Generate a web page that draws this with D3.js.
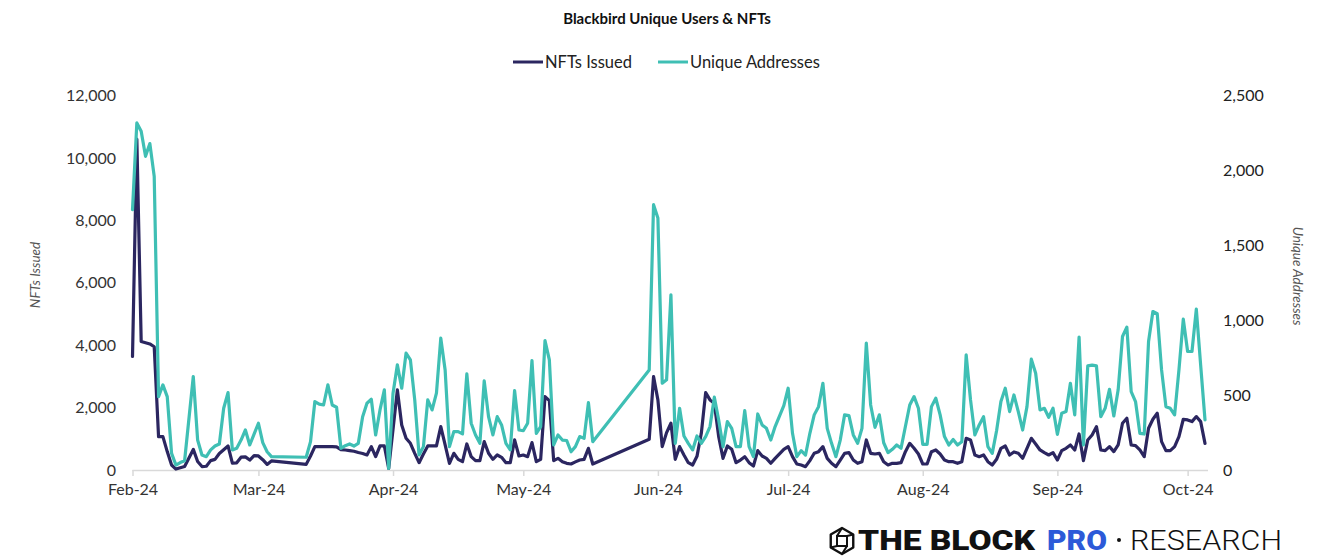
<!DOCTYPE html>
<html>
<head>
<meta charset="utf-8">
<script src="https://cdn.jsdelivr.net/npm/d3@7"></script>
<style>
  body { margin: 0; background: #ffffff; }
  svg { display: block; }
  text { font-family: Lato, "Open Sans", "DejaVu Sans", sans-serif; }
</style>
</head>
<body>
<svg id="chart" width="1329" height="557"></svg>
<script>
// Daily observations (2024, MM-DD); days without data are simply absent.
const dates = [
  "02-01","02-02","02-03","02-04","02-05","02-06","02-07","02-08","02-09","02-10",
  "02-11","02-12","02-13","02-15","02-16","02-17","02-18","02-19","02-20","02-21",
  "02-22","02-23","02-24","02-25","02-26","02-27","02-28","02-29",
  "03-01","03-02","03-03","03-04","03-12","03-13","03-14","03-15","03-16","03-17",
  "03-18","03-19","03-20","03-21","03-22","03-23","03-24","03-25","03-26","03-27",
  "03-28","03-29","03-30","03-31",
  "04-01","04-02","04-03","04-04","04-05","04-06","04-07","04-08","04-09","04-10",
  "04-11","04-12","04-13","04-14","04-15","04-16","04-17","04-18","04-19","04-20",
  "04-21","04-22","04-23","04-24","04-25","04-26","04-27","04-28","04-29","04-30",
  "05-01","05-02","05-03","05-04","05-05","05-06","05-07","05-08","05-09","05-10",
  "05-11","05-12","05-13","05-14","05-15","05-16","05-17","05-30","05-31",
  "06-01","06-02","06-03","06-04","06-05","06-06","06-07","06-08","06-09","06-10",
  "06-11","06-12","06-13","06-14","06-15","06-16","06-17","06-18","06-19","06-20",
  "06-21","06-22","06-23","06-24","06-25","06-26","06-27","06-28","06-29","06-30",
  "07-01","07-02","07-03","07-04","07-05","07-06","07-07","07-08","07-09","07-10",
  "07-11","07-12","07-13","07-14","07-15","07-16","07-17","07-18","07-19","07-20",
  "07-21","07-22","07-23","07-24","07-25","07-26","07-27","07-28","07-29","07-30","07-31",
  "08-01","08-02","08-03","08-04","08-05","08-06","08-07","08-08","08-09","08-10",
  "08-11","08-12","08-13","08-14","08-15","08-16","08-17","08-18","08-19","08-20",
  "08-21","08-22","08-23","08-24","08-25","08-26","08-27","08-28","08-29","08-30","08-31",
  "09-01","09-02","09-03","09-04","09-05","09-06","09-07","09-08","09-09","09-10",
  "09-11","09-12","09-13","09-14","09-15","09-16","09-17","09-18","09-19","09-20",
  "09-21","09-22","09-23","09-24","09-25","09-26","09-27","09-28","09-29","09-30",
  "10-01","10-02","10-03","10-04","10-05"
];

// NFTs Issued (left axis)
const nftsIssued = [
  3640,10600,4120,4080,4040,3950,1070,1070,590,160,
  30,70,110,660,270,110,120,300,340,530,
  650,770,220,230,410,420,320,460,
  450,330,180,290,180,450,750,750,750,750,
  750,740,650,640,620,600,560,530,481,749,
  428,770,770,53,
  1300,2567,1444,1016,855,535,235,513,770,770,
  770,1390,802,214,535,342,267,834,428,300,
  300,909,535,342,481,406,235,235,963,449,
  481,428,877,267,342,2353,2225,300,374,267,
  214,192,260,320,342,695,192,984,2995,
  2246,749,1198,1497,342,749,481,235,160,438,
  1176,2481,2246,2139,1069,374,770,663,235,320,
  428,235,128,620,449,374,214,374,520,663,
  749,428,192,160,107,299,535,588,749,374,
  214,107,320,535,556,320,214,267,963,535,
  513,535,267,160,214,214,235,588,855,695,513,
  192,192,588,642,513,320,267,267,214,267,
  1016,963,481,428,481,267,160,342,695,770,
  481,578,535,374,695,1016,834,642,556,481,556,
  321,620,695,802,642,1155,299,963,1123,1390,
  642,620,749,588,802,1497,1658,802,781,642,
  428,1337,1626,1818,909,620,620,749,1069,1626,
  1605,1551,1712,1551,855
];

// Unique Addresses (right axis)
const uniqueAddresses = [
  1738,2317,2261,2094,2179,1960,490,568,490,111,
  33,50,62,624,200,100,89,134,160,174,
  412,517,134,145,200,267,167,240,
  312,183,122,89,85,189,457,440,434,568,
  434,419,145,162,174,160,178,356,446,472,
  234,401,535,11,
  513,702,546,780,735,468,100,156,468,401,
  513,880,668,156,256,256,241,642,312,234,
  178,595,356,234,356,301,178,134,530,267,
  262,312,731,245,290,864,735,167,234,200,
  197,122,156,223,211,450,189,668,1771,
  1682,579,602,1170,178,412,227,178,134,227,
  178,223,290,486,334,156,323,278,156,156,
  396,156,89,374,301,278,200,290,360,430,
  546,245,89,129,100,245,368,423,579,278,
  178,89,200,368,363,234,178,278,847,434,
  285,368,182,116,138,167,145,290,434,490,412,
  171,171,423,479,368,223,167,204,167,189,
  769,468,234,301,356,156,111,262,457,546,
  390,501,390,267,423,740,646,401,412,352,412,
  238,379,390,579,368,887,167,695,700,695,
  356,412,539,361,535,891,954,523,457,245,
  240,858,1058,1043,668,423,412,368,668,1007,
  791,791,1074,700,334
];

const leftTicks = [0, 2000, 4000, 6000, 8000, 10000, 12000];
const rightTicks = [0, 500, 1000, 1500, 2000, 2500];

const parseDay = d3.timeParse("%Y-%m-%d");
const rows = dates.map((d, i) => ({
  date: parseDay("2024-" + d),
  nfts: nftsIssued[i],
  addr: uniqueAddresses[i]
}));

const svg = d3.select("#chart");
const plot = { left: 132.5, right: 1205, top: 95.5, bottom: 470 };

const x = d3.scaleTime()
  .domain([parseDay("2024-02-01"), parseDay("2024-10-05")])
  .range([plot.left, plot.right]);
const yLeft = d3.scaleLinear().domain([0, 12000]).range([plot.bottom, plot.top]);
const yRight = d3.scaleLinear().domain([0, 2500]).range([plot.bottom, plot.top]);

const navy = "#2b2660";
const teal = "#3fbfb4";

// Title
svg.append("text")
  .attr("x", 667).attr("y", 24)
  .attr("text-anchor", "middle")
  .attr("font-size", 15).attr("font-weight", 700)
  .attr("fill", "#111")
  .text("Blackbird Unique Users & NFTs");

// Legend
const legend = svg.append("g");
const legendItems = [
  { label: "NFTs Issued", color: navy, x: 513 },
  { label: "Unique Addresses", color: teal, x: 658 }
];
legendItems.forEach(item => {
  legend.append("line")
    .attr("x1", item.x).attr("x2", item.x + 30)
    .attr("y1", 62).attr("y2", 62)
    .attr("stroke", item.color).attr("stroke-width", 3);
  legend.append("text")
    .attr("x", item.x + 32).attr("y", 68)
    .attr("font-size", 16.5).attr("fill", "#222")
    .text(item.label);
});

// Left axis
const gLeft = svg.append("g")
  .attr("transform", `translate(${116},0)`)
  .call(d3.axisLeft(yLeft).tickValues(leftTicks).tickSize(0).tickPadding(0)
    .tickFormat(d3.format(",")));
gLeft.select(".domain").remove();
gLeft.selectAll("text")
  .attr("font-size", 16).attr("fill", "#333")
  .style("font-family", "Lato, 'Open Sans', sans-serif");

// Right axis
const gRight = svg.append("g")
  .attr("transform", `translate(${1223},0)`)
  .call(d3.axisRight(yRight).tickValues(rightTicks).tickSize(0).tickPadding(0)
    .tickFormat(d3.format(",")));
gRight.select(".domain").remove();
gRight.selectAll("text")
  .attr("font-size", 16).attr("fill", "#222")
  .style("font-family", "Lato, 'Open Sans', sans-serif");

// Axis titles
svg.append("text")
  .attr("transform", "translate(40,275) rotate(-90)")
  .attr("text-anchor", "middle")
  .attr("font-size", 13.5).attr("font-style", "italic").attr("fill", "#555")
  .text("NFTs Issued");
svg.append("text")
  .attr("transform", "translate(1293,276) rotate(90)")
  .attr("text-anchor", "middle")
  .attr("font-size", 13.5).attr("font-style", "italic").attr("fill", "#555")
  .text("Unique Addresses");

// X axis
const gX = svg.append("g")
  .attr("transform", `translate(0,${plot.bottom})`)
  .call(d3.axisBottom(x)
    .ticks(d3.timeMonth.every(1))
    .tickSize(6).tickPadding(8)
    .tickFormat(d3.timeFormat("%b-%y"))
    .tickSizeOuter(0));
gX.select(".domain")
  .attr("d", `M${plot.left},0.5H${plot.right + 3}`)
  .attr("stroke", "#d9d9d9").attr("stroke-width", 1.5);
gX.selectAll(".tick line").attr("stroke", "#d9d9d9").attr("stroke-width", 1.5);
gX.selectAll(".tick text")
  .attr("font-size", 16).attr("fill", "#333")
  .style("font-family", "Lato, 'Open Sans', sans-serif");

// Series lines
const lineNfts = d3.line().x(d => x(d.date)).y(d => yLeft(d.nfts));
const lineAddr = d3.line().x(d => x(d.date)).y(d => yRight(d.addr));

svg.append("path").datum(rows)
  .attr("d", lineNfts)
  .attr("fill", "none").attr("stroke", navy)
  .attr("stroke-width", 3.2).attr("stroke-linejoin", "round").attr("stroke-linecap", "round");

svg.append("path").datum(rows)
  .attr("d", lineAddr)
  .attr("fill", "none").attr("stroke", teal)
  .attr("stroke-width", 3.2).attr("stroke-linejoin", "round").attr("stroke-linecap", "round");

// Brand mark
const brand = svg.append("g");
const cx = 842, cy = 541, r = 13;
const hex = d3.range(6).map(k => {
  const a = Math.PI / 3 * k - Math.PI / 2;
  return [cx + r * Math.cos(a), cy + r * Math.sin(a)];
});
brand.append("path")
  .attr("d", "M" + hex.map(p => p.join(",")).join("L") + "Z")
  .attr("fill", "none").attr("stroke", "#111").attr("stroke-width", 2.4)
  .attr("stroke-linejoin", "round");
const inner = [[cx - 5, cy - 5], [cx + 5, cy - 5], [cx + 5, cy + 5], [cx - 5, cy + 5]];
brand.append("path")
  .attr("d", "M" + inner.map(p => p.join(",")).join("L") + "Z")
  .attr("fill", "none").attr("stroke", "#111").attr("stroke-width", 2);
[[0, 0], [1, 1], [3, 2], [4, 3]].forEach(([h, q]) => {
  brand.append("line")
    .attr("x1", hex[h][0]).attr("y1", hex[h][1])
    .attr("x2", inner[q][0]).attr("y2", inner[q][1])
    .attr("stroke", "#111").attr("stroke-width", 2);
});

brand.append("text")
  .attr("x", 858).attr("y", 550)
  .attr("font-size", 28).attr("font-weight", 900).attr("fill", "#111")
  .attr("textLength", 177).attr("lengthAdjust", "spacingAndGlyphs")
  .style("font-family", "Roboto, 'Liberation Sans', Arial, sans-serif")
  .text("THE BLOCK");
brand.append("text")
  .attr("x", 1047).attr("y", 550)
  .attr("font-size", 28).attr("font-weight", 900).attr("fill", "#2c5ad8")
  .attr("textLength", 60).attr("lengthAdjust", "spacingAndGlyphs")
  .style("font-family", "Roboto, 'Liberation Sans', Arial, sans-serif")
  .text("PRO");
brand.append("circle")
  .attr("cx", 1119).attr("cy", 540).attr("r", 2).attr("fill", "#111");
brand.append("text")
  .attr("x", 1130).attr("y", 550)
  .attr("font-size", 28).attr("font-weight", 300).attr("fill", "#111")
  .attr("textLength", 152).attr("lengthAdjust", "spacingAndGlyphs")
  .style("font-family", "Roboto, 'Liberation Sans', Arial, sans-serif")
  .text("RESEARCH");
</script>
</body>
</html>
